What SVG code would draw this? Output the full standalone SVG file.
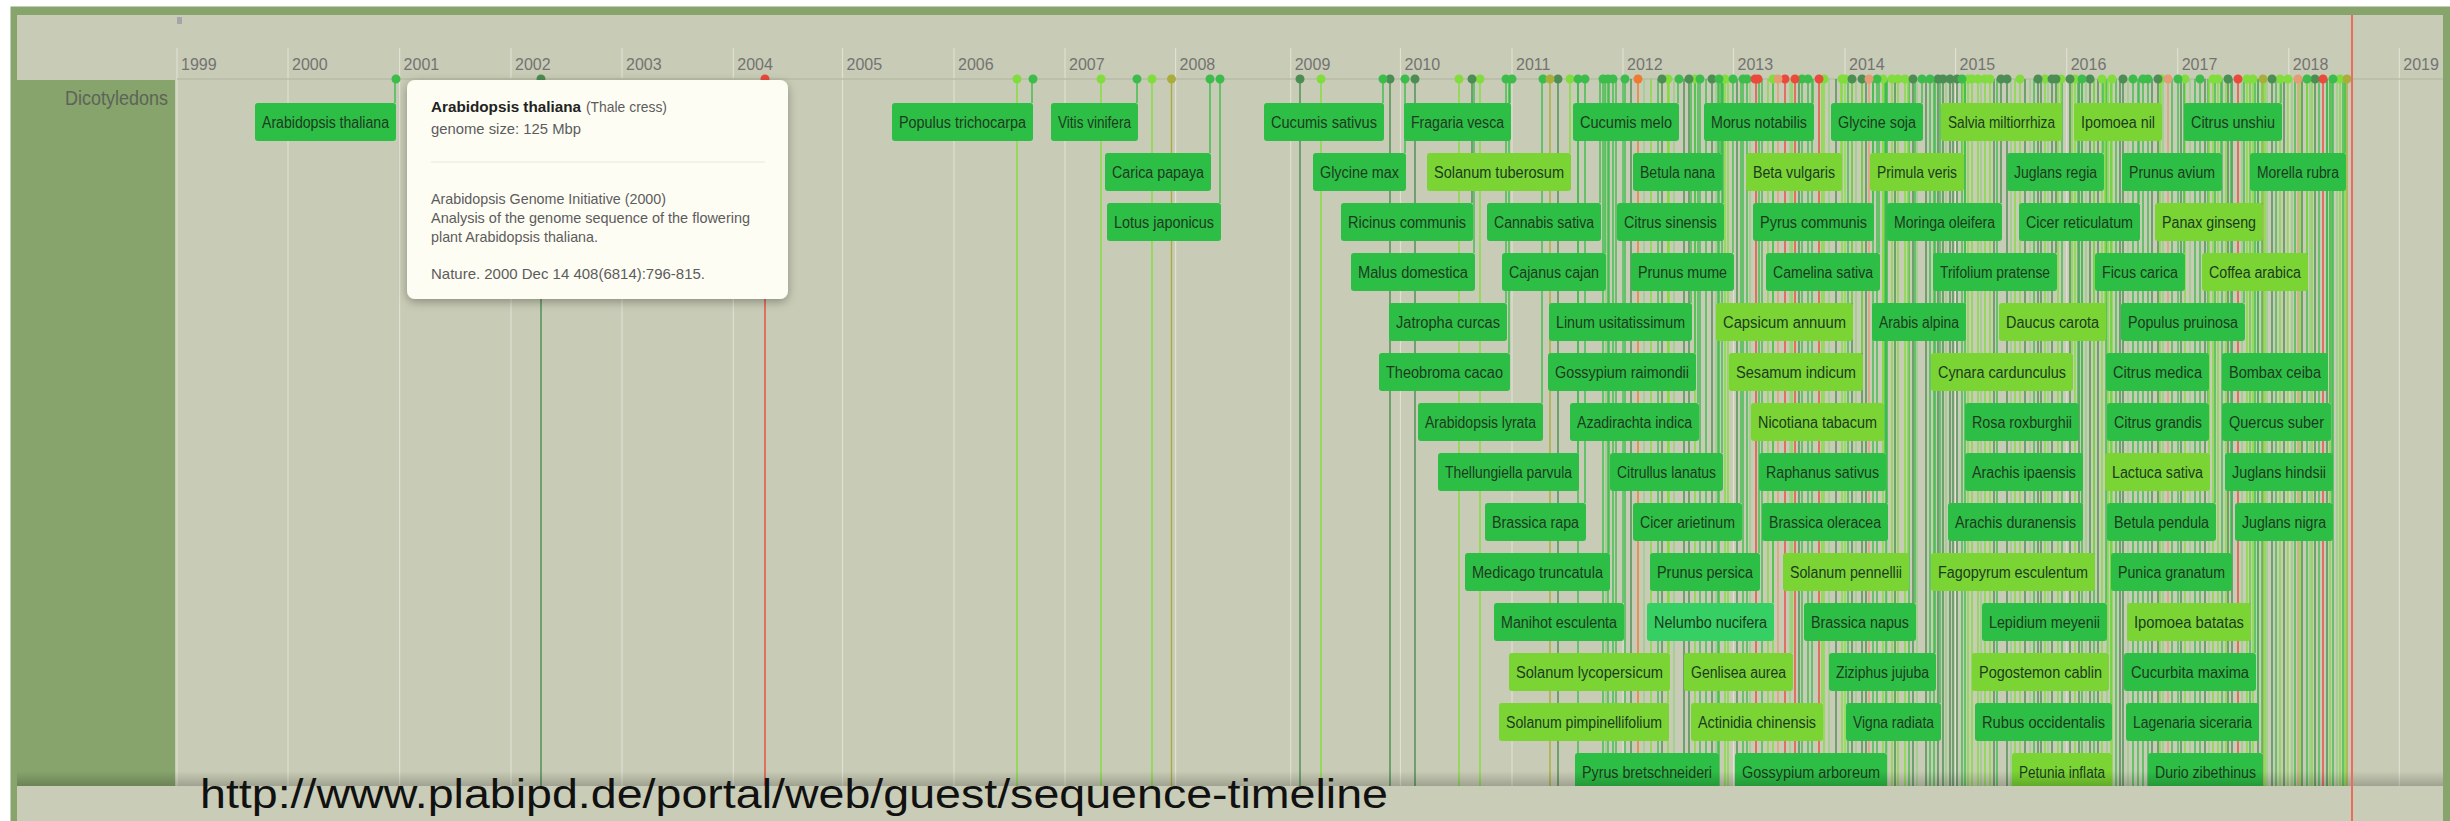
<svg xmlns="http://www.w3.org/2000/svg" width="2450" height="821" viewBox="0 0 2450 821">
<defs>
<style>
.yr{font-family:'Liberation Sans',Arial,sans-serif;font-size:16px;fill:#737373}
.lbl{font-family:'Liberation Sans',Arial,sans-serif;font-size:16px;fill:#1d3b21;text-anchor:middle}
.bd,.bl,.bn{rx:3px;ry:3px}
.bd{fill:#2dbe46}.bl{fill:#7ad434}.bn{fill:#35cf63}
.grid{stroke:#e0e1d3;stroke-width:1.2;fill:none}
.st{fill:none;stroke-width:1.4}
.dot{fill:none;stroke-width:9;stroke-linecap:round}
.dg{stroke:#4b8d52}.g{stroke:#3cbd4b}.lg{stroke:#80dd3d}.pg{stroke:#96cf86}.ol{stroke:#a9ad3c}.rd{stroke:#ea4a3c}.sa{stroke:#e39c74}.or{stroke:#ef7a32}
.tt{font-family:'Liberation Sans',Arial,sans-serif;font-size:15px;fill:#5c5c5c}
</style>
<filter id="sh" x="-10%" y="-10%" width="120%" height="130%"><feDropShadow dx="0" dy="3" stdDeviation="5" flood-color="#000" flood-opacity="0.3"/></filter>
<linearGradient id="bshade" x1="0" y1="0" x2="0" y2="1"><stop offset="0" stop-color="#000" stop-opacity="0"/><stop offset="1" stop-color="#000" stop-opacity="0.2"/></linearGradient>
</defs>
<rect x="0" y="0" width="2450" height="821" fill="#ffffff"/>
<rect x="10.5" y="6.5" width="2439.5" height="814.5" fill="#86a46c"/>
<rect x="17" y="15" width="2426" height="806" fill="#c8cbb5"/>
<rect x="17" y="80" width="158" height="706" fill="#86a46c"/>
<rect x="177" y="17" width="5" height="7" fill="#a2a5aa"/>
<text x="168" y="105" font-family="'Liberation Sans',Arial,sans-serif" font-size="20" fill="#5e6358" text-anchor="end" textLength="103" lengthAdjust="spacingAndGlyphs">Dicotyledons</text>

<g id="grid">
<path class="grid" d="M177 48V787M288 48V787M399.6 48V787M511 48V787M622 48V787M733.3 48V787M842.5 48V787M954 48V787M1065 48V787M1175.6 48V787M1290.7 48V787M1400.5 48V787M1512 48V787M1623 48V787M1733.5 48V787M1845 48V787M1955.6 48V787M2066.7 48V787M2177.7 48V787M2288.8 48V787M2399.3 48V787"/>
<line x1="177" y1="79" x2="2443" y2="79" stroke="#b8bba6" stroke-width="1.5"/>
<text class="yr" x="181" y="70">1999</text>
<text class="yr" x="292" y="70">2000</text>
<text class="yr" x="403.6" y="70">2001</text>
<text class="yr" x="515" y="70">2002</text>
<text class="yr" x="626" y="70">2003</text>
<text class="yr" x="737.3" y="70">2004</text>
<text class="yr" x="846.5" y="70">2005</text>
<text class="yr" x="958" y="70">2006</text>
<text class="yr" x="1069" y="70">2007</text>
<text class="yr" x="1179.6" y="70">2008</text>
<text class="yr" x="1294.7" y="70">2009</text>
<text class="yr" x="1404.5" y="70">2010</text>
<text class="yr" x="1516" y="70">2011</text>
<text class="yr" x="1627" y="70">2012</text>
<text class="yr" x="1737.5" y="70">2013</text>
<text class="yr" x="1849" y="70">2014</text>
<text class="yr" x="1959.6" y="70">2015</text>
<text class="yr" x="2070.7" y="70">2016</text>
<text class="yr" x="2181.7" y="70">2017</text>
<text class="yr" x="2292.8" y="70">2018</text>
<text class="yr" x="2403.3" y="70">2019</text>
</g>

<g id="connectors">
<path class="st pg" d="M1606 79V787M1644 79V787M1674 79V787M1716 79V787M1750 79V787M1790 79V787M1829 79V787M1856 79V787M1887 79V787M1917 79V787M1946 79V787M1981 79V787M2011 79V787M2030 79V787M2048 79V787M2086 79V787M2107 79V787M2128 79V787M2163 79V787M2190 79V787M2209 79V787M2242 79V787M2267 79V787M2292 79V787M2310 79V787M2337 79V787"/>
<path class="st dg" d="M541 79V787M1300 79V787M1390 79V787M1415 79V787M1558 79V787M1662 79V787M1689 79V787M1712 79V787M1852 79V787M1862 79V787M1913 79V787M1938 79V787M1943 79V787M1950 79V787M1957 79V787M2007 79V787M2038 79V787M2052 79V787M2070 79V787M2090 79V787M2123 79V787M2158 79V787M2228 79V787M2272 79V787M2315 79V787M1631 79V787M1684 79V787M1737 79V787M1799 79V787M1836 79V787M1866 79V787M1895 79V787M1926 79V787M1953 79V787M1994 79V787M2025 79V787M2041 79V787M2079 79V787M2098 79V787M2120 79V787M2152 79V787M2181 79V787M2205 79V787M2232 79V787M2258 79V787M2284 79V787M2302 79V787M2327 79V787M1472 79V203M2001 79V203M2056 79V253"/>
<path class="st g" d="M1578 79V787M1603 79V787M1608 79V787M1613 79V787M1625 79V787M1700 79V787M1719 79V787M1743 79V787M1747 79V787M1802 79V787M1808 79V787M1877 79V787M1930 79V787M1962 79V787M2082 79V787M2133 79V787M2143 79V787M2148 79V787M2178 79V787M2200 79V787M2307 79V787M2333 79V787M1616 79V787M1658 79V787M1706 79V787M1762 79V787M1812 79V787M1848 79V787M1873 79V787M1909 79V787M1934 79V787M1965 79V787M1997 79V787M2034 79V787M2062 79V787M2094 79V787M2116 79V787M2138 79V787M2172 79V787M2195 79V787M2222 79V787M2250 79V787M2276 79V787M2295 79V787M2319 79V787M2343 79V787"/>
<path class="st lg" d="M1017 79V787M1101 79V787M1152 79V787M1321 79V787M1459 79V787M1480 79V787M1668 79V787M1695 79V787M1725 79V787M1773 79V787M1824 79V787M1842 79V787M1845 79V787M1883 79V787M1892 79V787M1898 79V787M1905 79V787M1968 79V787M1972 79V787M1978 79V787M1985 79V787M1990 79V787M2020 79V787M2045 79V787M2075 79V787M2102 79V787M2112 79V787M2185 79V787M2213 79V787M2218 79V787M2247 79V787M2253 79V787M2280 79V787M2288 79V787M2340 79V787M1651 79V787M1728 79V787M1768 79V787M2015 79V787M2058 79V787M2160 79V787M2226 79V787M2265 79V787M2300 79V787M2312 79V787M2330 79V787M2345 79V787"/>
<path class="st ol" d="M1171.5 79V787M1550 79V787M2263 79V787M2347 79V787"/>
<path class="st rd" d="M765 79V787M1785 79V787M1795 79V787M1819 79V787M2238 79V787M2323 79V787"/>
<path class="st rd" stroke-width="3.5" d="M1756 79V787"/>
<path class="st sa" d="M1778 79V787M1869 79V787M2168 79V787M2298 79V787"/>
<path class="st or" d="M1638 79V787"/>
<path class="st g" d="M395 79V103M1032 79V103M1137 79V103M1383 79V103M1510 79V103M1678 79V103M1813 79V103M1922 79V103M2281 79V103M1210 79V153M1405 79V153M1721 79V153M2103 79V153M2221 79V153M2345 79V153M1220 79V203M1600 79V203M1723 79V203M1873 79V203M2139 79V203M1474 79V253M1605 79V253M1733 79V253M1879 79V253M2184 79V253M1506 79V303M1691 79V303M1965 79V303M2244 79V303M1509 79V353M1695 79V353M2208 79V353M2327 79V353M1542 79V403M1698 79V403M2078 79V403M2208 79V403M2330 79V403M1578 79V453M1722 79V453M1885 79V453M2082 79V453M2332 79V453M1585 79V503M1741 79V503M1887 79V503M2082 79V503M2215 79V503M2332 79V503M1609 79V553M1759 79V553M2231 79V553M1623 79V603M1773 79V603M1915 79V603M2106 79V603M1935 79V653M2255 79V653M1940 79V703M2111 79V703M2258 79V703M1718 79V753M1886 79V753M2262 79V753"/>
<path class="st lg" d="M2061 79V103M2161 79V103M1570 79V153M1841 79V153M1963 79V153M2262 79V203M2307 79V253M1852 79V303M2105 79V303M1862 79V353M2072 79V353M1883 79V403M2209 79V453M1908 79V553M2094 79V553M2250 79V603M1669 79V653M1792 79V653M2108 79V653M1668 79V703M1822 79V703M2111 79V753"/>
</g>

<g id="dots">
<path class="dot lg" d="M1017 79h0M1101 79h0M1152 79h0M1321 79h0M1459 79h0M1480 79h0M1570 79h0M1668 79h0M1695 79h0M1725 79h0M1773 79h0M1824 79h0M1842 79h0M1845 79h0M1883 79h0M1892 79h0M1898 79h0M1905 79h0M1968 79h0M1972 79h0M1978 79h0M1985 79h0M1990 79h0M2020 79h0M2045 79h0M2061 79h0M2075 79h0M2102 79h0M2112 79h0M2161 79h0M2185 79h0M2213 79h0M2218 79h0M2247 79h0M2253 79h0M2280 79h0M2288 79h0M2340 79h0"/>
<path class="dot dg" d="M541 79h0M1300 79h0M1390 79h0M1415 79h0M1472 79h0M1558 79h0M1662 79h0M1689 79h0M1712 79h0M1852 79h0M1862 79h0M1913 79h0M1938 79h0M1943 79h0M1950 79h0M1957 79h0M2001 79h0M2007 79h0M2038 79h0M2052 79h0M2056 79h0M2070 79h0M2090 79h0M2123 79h0M2158 79h0M2228 79h0M2272 79h0M2315 79h0"/>
<path class="dot g" d="M396 79h0M1033 79h0M1137 79h0M1210 79h0M1220 79h0M1383 79h0M1405 79h0M1506 79h0M1512 79h0M1543 79h0M1578 79h0M1585 79h0M1603 79h0M1608 79h0M1613 79h0M1625 79h0M1679 79h0M1700 79h0M1719 79h0M1733 79h0M1743 79h0M1747 79h0M1802 79h0M1808 79h0M1877 79h0M1922 79h0M1930 79h0M1962 79h0M2082 79h0M2133 79h0M2143 79h0M2148 79h0M2178 79h0M2200 79h0M2307 79h0M2333 79h0"/>
<path class="dot ol" d="M1171.5 79h0M1550 79h0M2263 79h0M2347 79h0"/>
<path class="dot rd" d="M765 79h0M1755 79h0M1758 79h0M1785 79h0M1795 79h0M1819 79h0M2238 79h0M2323 79h0"/>
<path class="dot sa" d="M1778 79h0M1869 79h0M2168 79h0M2298 79h0"/>
<path class="dot or" d="M1638 79h0"/>
</g>

<g id="nodes">
<g id="n-arabidopsis-thaliana"><rect class="bd" x="255" y="103" width="141" height="38"/><text class="lbl" x="325.5" y="128" textLength="127" lengthAdjust="spacingAndGlyphs">Arabidopsis thaliana</text></g>
<g id="n-populus-trichocarpa"><rect class="bd" x="892" y="103" width="141" height="38"/><text class="lbl" x="962.5" y="128" textLength="127" lengthAdjust="spacingAndGlyphs">Populus trichocarpa</text></g>
<g id="n-vitis-vinifera"><rect class="bd" x="1051" y="103" width="87" height="38"/><text class="lbl" x="1094.5" y="128" textLength="73" lengthAdjust="spacingAndGlyphs">Vitis vinifera</text></g>
<g id="n-cucumis-sativus"><rect class="bd" x="1264" y="103" width="120" height="38"/><text class="lbl" x="1324" y="128" textLength="106" lengthAdjust="spacingAndGlyphs">Cucumis sativus</text></g>
<g id="n-fragaria-vesca"><rect class="bd" x="1404" y="103" width="107" height="38"/><text class="lbl" x="1457.5" y="128" textLength="93" lengthAdjust="spacingAndGlyphs">Fragaria vesca</text></g>
<g id="n-cucumis-melo"><rect class="bd" x="1573" y="103" width="106" height="38"/><text class="lbl" x="1626" y="128" textLength="92" lengthAdjust="spacingAndGlyphs">Cucumis melo</text></g>
<g id="n-morus-notabilis"><rect class="bd" x="1704" y="103" width="110" height="38"/><text class="lbl" x="1759" y="128" textLength="96" lengthAdjust="spacingAndGlyphs">Morus notabilis</text></g>
<g id="n-glycine-soja"><rect class="bd" x="1831" y="103" width="92" height="38"/><text class="lbl" x="1877" y="128" textLength="78" lengthAdjust="spacingAndGlyphs">Glycine soja</text></g>
<g id="n-salvia-miltiorrhiza"><rect class="bl" x="1941" y="103" width="121" height="38"/><text class="lbl" x="2001.5" y="128" textLength="107" lengthAdjust="spacingAndGlyphs">Salvia miltiorrhiza</text></g>
<g id="n-ipomoea-nil"><rect class="bl" x="2074" y="103" width="88" height="38"/><text class="lbl" x="2118" y="128" textLength="74" lengthAdjust="spacingAndGlyphs">Ipomoea nil</text></g>
<g id="n-citrus-unshiu"><rect class="bd" x="2184" y="103" width="98" height="38"/><text class="lbl" x="2233" y="128" textLength="84" lengthAdjust="spacingAndGlyphs">Citrus unshiu</text></g>

<g id="n-carica-papaya"><rect class="bd" x="1105" y="153" width="106" height="38"/><text class="lbl" x="1158" y="178" textLength="92" lengthAdjust="spacingAndGlyphs">Carica papaya</text></g>
<g id="n-glycine-max"><rect class="bd" x="1313" y="153" width="93" height="38"/><text class="lbl" x="1359.5" y="178" textLength="79" lengthAdjust="spacingAndGlyphs">Glycine max</text></g>
<g id="n-solanum-tuberosum"><rect class="bl" x="1427" y="153" width="144" height="38"/><text class="lbl" x="1499" y="178" textLength="130" lengthAdjust="spacingAndGlyphs">Solanum tuberosum</text></g>
<g id="n-betula-nana"><rect class="bd" x="1633" y="153" width="89" height="38"/><text class="lbl" x="1677.5" y="178" textLength="75" lengthAdjust="spacingAndGlyphs">Betula nana</text></g>
<g id="n-beta-vulgaris"><rect class="bl" x="1746" y="153" width="96" height="38"/><text class="lbl" x="1794" y="178" textLength="82" lengthAdjust="spacingAndGlyphs">Beta vulgaris</text></g>
<g id="n-primula-veris"><rect class="bl" x="1870" y="153" width="94" height="38"/><text class="lbl" x="1917" y="178" textLength="80" lengthAdjust="spacingAndGlyphs">Primula veris</text></g>
<g id="n-juglans-regia"><rect class="bd" x="2007" y="153" width="97" height="38"/><text class="lbl" x="2055.5" y="178" textLength="83" lengthAdjust="spacingAndGlyphs">Juglans regia</text></g>
<g id="n-prunus-avium"><rect class="bd" x="2122" y="153" width="100" height="38"/><text class="lbl" x="2172" y="178" textLength="86" lengthAdjust="spacingAndGlyphs">Prunus avium</text></g>
<g id="n-morella-rubra"><rect class="bd" x="2250" y="153" width="96" height="38"/><text class="lbl" x="2298" y="178" textLength="82" lengthAdjust="spacingAndGlyphs">Morella rubra</text></g>

<g id="n-lotus-japonicus"><rect class="bd" x="1107" y="203" width="114" height="38"/><text class="lbl" x="1164" y="228" textLength="100" lengthAdjust="spacingAndGlyphs">Lotus japonicus</text></g>
<g id="n-ricinus-communis"><rect class="bd" x="1341" y="203" width="132" height="38"/><text class="lbl" x="1407" y="228" textLength="118" lengthAdjust="spacingAndGlyphs">Ricinus communis</text></g>
<g id="n-cannabis-sativa"><rect class="bd" x="1487" y="203" width="114" height="38"/><text class="lbl" x="1544" y="228" textLength="100" lengthAdjust="spacingAndGlyphs">Cannabis sativa</text></g>
<g id="n-citrus-sinensis"><rect class="bd" x="1617" y="203" width="107" height="38"/><text class="lbl" x="1670.5" y="228" textLength="93" lengthAdjust="spacingAndGlyphs">Citrus sinensis</text></g>
<g id="n-pyrus-communis"><rect class="bd" x="1753" y="203" width="121" height="38"/><text class="lbl" x="1813.5" y="228" textLength="107" lengthAdjust="spacingAndGlyphs">Pyrus communis</text></g>
<g id="n-moringa-oleifera"><rect class="bd" x="1887" y="203" width="115" height="38"/><text class="lbl" x="1944.5" y="228" textLength="101" lengthAdjust="spacingAndGlyphs">Moringa oleifera</text></g>
<g id="n-cicer-reticulatum"><rect class="bd" x="2019" y="203" width="121" height="38"/><text class="lbl" x="2079.5" y="228" textLength="107" lengthAdjust="spacingAndGlyphs">Cicer reticulatum</text></g>
<g id="n-panax-ginseng"><rect class="bl" x="2155" y="203" width="108" height="38"/><text class="lbl" x="2209" y="228" textLength="94" lengthAdjust="spacingAndGlyphs">Panax ginseng</text></g>

<g id="n-malus-domestica"><rect class="bd" x="1351" y="253" width="124" height="38"/><text class="lbl" x="1413" y="278" textLength="110" lengthAdjust="spacingAndGlyphs">Malus domestica</text></g>
<g id="n-cajanus-cajan"><rect class="bd" x="1502" y="253" width="104" height="38"/><text class="lbl" x="1554" y="278" textLength="90" lengthAdjust="spacingAndGlyphs">Cajanus cajan</text></g>
<g id="n-prunus-mume"><rect class="bd" x="1631" y="253" width="103" height="38"/><text class="lbl" x="1682.5" y="278" textLength="89" lengthAdjust="spacingAndGlyphs">Prunus mume</text></g>
<g id="n-camelina-sativa"><rect class="bd" x="1766" y="253" width="114" height="38"/><text class="lbl" x="1823" y="278" textLength="100" lengthAdjust="spacingAndGlyphs">Camelina sativa</text></g>
<g id="n-trifolium-pratense"><rect class="bd" x="1933" y="253" width="124" height="38"/><text class="lbl" x="1995" y="278" textLength="110" lengthAdjust="spacingAndGlyphs">Trifolium pratense</text></g>
<g id="n-ficus-carica"><rect class="bd" x="2095" y="253" width="90" height="38"/><text class="lbl" x="2140" y="278" textLength="76" lengthAdjust="spacingAndGlyphs">Ficus carica</text></g>
<g id="n-coffea-arabica"><rect class="bl" x="2202" y="253" width="106" height="38"/><text class="lbl" x="2255" y="278" textLength="92" lengthAdjust="spacingAndGlyphs">Coffea arabica</text></g>

<g id="n-jatropha-curcas"><rect class="bd" x="1389" y="303" width="118" height="38"/><text class="lbl" x="1448" y="328" textLength="104" lengthAdjust="spacingAndGlyphs">Jatropha curcas</text></g>
<g id="n-linum-usitatissimum"><rect class="bd" x="1549" y="303" width="143" height="38"/><text class="lbl" x="1620.5" y="328" textLength="129" lengthAdjust="spacingAndGlyphs">Linum usitatissimum</text></g>
<g id="n-capsicum-annuum"><rect class="bl" x="1716" y="303" width="137" height="38"/><text class="lbl" x="1784.5" y="328" textLength="123" lengthAdjust="spacingAndGlyphs">Capsicum annuum</text></g>
<g id="n-arabis-alpina"><rect class="bd" x="1872" y="303" width="94" height="38"/><text class="lbl" x="1919" y="328" textLength="80" lengthAdjust="spacingAndGlyphs">Arabis alpina</text></g>
<g id="n-daucus-carota"><rect class="bl" x="1999" y="303" width="107" height="38"/><text class="lbl" x="2052.5" y="328" textLength="93" lengthAdjust="spacingAndGlyphs">Daucus carota</text></g>
<g id="n-populus-pruinosa"><rect class="bd" x="2121" y="303" width="124" height="38"/><text class="lbl" x="2183" y="328" textLength="110" lengthAdjust="spacingAndGlyphs">Populus pruinosa</text></g>

<g id="n-theobroma-cacao"><rect class="bd" x="1379" y="353" width="131" height="38"/><text class="lbl" x="1444.5" y="378" textLength="117" lengthAdjust="spacingAndGlyphs">Theobroma cacao</text></g>
<g id="n-gossypium-raimondii"><rect class="bd" x="1548" y="353" width="148" height="38"/><text class="lbl" x="1622" y="378" textLength="134" lengthAdjust="spacingAndGlyphs">Gossypium raimondii</text></g>
<g id="n-sesamum-indicum"><rect class="bl" x="1729" y="353" width="134" height="38"/><text class="lbl" x="1796" y="378" textLength="120" lengthAdjust="spacingAndGlyphs">Sesamum indicum</text></g>
<g id="n-cynara-cardunculus"><rect class="bl" x="1931" y="353" width="142" height="38"/><text class="lbl" x="2002" y="378" textLength="128" lengthAdjust="spacingAndGlyphs">Cynara cardunculus</text></g>
<g id="n-citrus-medica"><rect class="bd" x="2106" y="353" width="103" height="38"/><text class="lbl" x="2157.5" y="378" textLength="89" lengthAdjust="spacingAndGlyphs">Citrus medica</text></g>
<g id="n-bombax-ceiba"><rect class="bd" x="2222" y="353" width="106" height="38"/><text class="lbl" x="2275" y="378" textLength="92" lengthAdjust="spacingAndGlyphs">Bombax ceiba</text></g>

<g id="n-arabidopsis-lyrata"><rect class="bd" x="1418" y="403" width="125" height="38"/><text class="lbl" x="1480.5" y="428" textLength="111" lengthAdjust="spacingAndGlyphs">Arabidopsis lyrata</text></g>
<g id="n-azadirachta-indica"><rect class="bd" x="1570" y="403" width="129" height="38"/><text class="lbl" x="1634.5" y="428" textLength="115" lengthAdjust="spacingAndGlyphs">Azadirachta indica</text></g>
<g id="n-nicotiana-tabacum"><rect class="bl" x="1751" y="403" width="133" height="38"/><text class="lbl" x="1817.5" y="428" textLength="119" lengthAdjust="spacingAndGlyphs">Nicotiana tabacum</text></g>
<g id="n-rosa-roxburghii"><rect class="bd" x="1965" y="403" width="114" height="38"/><text class="lbl" x="2022" y="428" textLength="100" lengthAdjust="spacingAndGlyphs">Rosa roxburghii</text></g>
<g id="n-citrus-grandis"><rect class="bd" x="2107" y="403" width="102" height="38"/><text class="lbl" x="2158" y="428" textLength="88" lengthAdjust="spacingAndGlyphs">Citrus grandis</text></g>
<g id="n-quercus-suber"><rect class="bd" x="2222" y="403" width="109" height="38"/><text class="lbl" x="2276.5" y="428" textLength="95" lengthAdjust="spacingAndGlyphs">Quercus suber</text></g>

<g id="n-thellungiella-parvula"><rect class="bd" x="1438" y="453" width="141" height="38"/><text class="lbl" x="1508.5" y="478" textLength="127" lengthAdjust="spacingAndGlyphs">Thellungiella parvula</text></g>
<g id="n-citrullus-lanatus"><rect class="bd" x="1610" y="453" width="113" height="38"/><text class="lbl" x="1666.5" y="478" textLength="99" lengthAdjust="spacingAndGlyphs">Citrullus lanatus</text></g>
<g id="n-raphanus-sativus"><rect class="bd" x="1759" y="453" width="127" height="38"/><text class="lbl" x="1822.5" y="478" textLength="113" lengthAdjust="spacingAndGlyphs">Raphanus sativus</text></g>
<g id="n-arachis-ipaensis"><rect class="bd" x="1965" y="453" width="118" height="38"/><text class="lbl" x="2024" y="478" textLength="104" lengthAdjust="spacingAndGlyphs">Arachis ipaensis</text></g>
<g id="n-lactuca-sativa"><rect class="bl" x="2105" y="453" width="105" height="38"/><text class="lbl" x="2157.5" y="478" textLength="91" lengthAdjust="spacingAndGlyphs">Lactuca sativa</text></g>
<g id="n-juglans-hindsii"><rect class="bd" x="2225" y="453" width="108" height="38"/><text class="lbl" x="2279" y="478" textLength="94" lengthAdjust="spacingAndGlyphs">Juglans hindsii</text></g>

<g id="n-brassica-rapa"><rect class="bd" x="1485" y="503" width="101" height="38"/><text class="lbl" x="1535.5" y="528" textLength="87" lengthAdjust="spacingAndGlyphs">Brassica rapa</text></g>
<g id="n-cicer-arietinum"><rect class="bd" x="1633" y="503" width="109" height="38"/><text class="lbl" x="1687.5" y="528" textLength="95" lengthAdjust="spacingAndGlyphs">Cicer arietinum</text></g>
<g id="n-brassica-oleracea"><rect class="bd" x="1762" y="503" width="126" height="38"/><text class="lbl" x="1825" y="528" textLength="112" lengthAdjust="spacingAndGlyphs">Brassica oleracea</text></g>
<g id="n-arachis-duranensis"><rect class="bd" x="1948" y="503" width="135" height="38"/><text class="lbl" x="2015.5" y="528" textLength="121" lengthAdjust="spacingAndGlyphs">Arachis duranensis</text></g>
<g id="n-betula-pendula"><rect class="bd" x="2107" y="503" width="109" height="38"/><text class="lbl" x="2161.5" y="528" textLength="95" lengthAdjust="spacingAndGlyphs">Betula pendula</text></g>
<g id="n-juglans-nigra"><rect class="bd" x="2235" y="503" width="98" height="38"/><text class="lbl" x="2284" y="528" textLength="84" lengthAdjust="spacingAndGlyphs">Juglans nigra</text></g>

<g id="n-medicago-truncatula"><rect class="bd" x="1465" y="553" width="145" height="38"/><text class="lbl" x="1537.5" y="578" textLength="131" lengthAdjust="spacingAndGlyphs">Medicago truncatula</text></g>
<g id="n-prunus-persica"><rect class="bd" x="1650" y="553" width="110" height="38"/><text class="lbl" x="1705" y="578" textLength="96" lengthAdjust="spacingAndGlyphs">Prunus persica</text></g>
<g id="n-solanum-pennellii"><rect class="bl" x="1783" y="553" width="126" height="38"/><text class="lbl" x="1846" y="578" textLength="112" lengthAdjust="spacingAndGlyphs">Solanum pennellii</text></g>
<g id="n-fagopyrum-esculentum"><rect class="bl" x="1931" y="553" width="164" height="38"/><text class="lbl" x="2013" y="578" textLength="150" lengthAdjust="spacingAndGlyphs">Fagopyrum esculentum</text></g>
<g id="n-punica-granatum"><rect class="bd" x="2111" y="553" width="121" height="38"/><text class="lbl" x="2171.5" y="578" textLength="107" lengthAdjust="spacingAndGlyphs">Punica granatum</text></g>

<g id="n-manihot-esculenta"><rect class="bd" x="1494" y="603" width="130" height="38"/><text class="lbl" x="1559" y="628" textLength="116" lengthAdjust="spacingAndGlyphs">Manihot esculenta</text></g>
<g id="n-nelumbo-nucifera"><rect class="bn" x="1647" y="603" width="127" height="38"/><text class="lbl" x="1710.5" y="628" textLength="113" lengthAdjust="spacingAndGlyphs">Nelumbo nucifera</text></g>
<g id="n-brassica-napus"><rect class="bd" x="1804" y="603" width="112" height="38"/><text class="lbl" x="1860" y="628" textLength="98" lengthAdjust="spacingAndGlyphs">Brassica napus</text></g>
<g id="n-lepidium-meyenii"><rect class="bd" x="1982" y="603" width="125" height="38"/><text class="lbl" x="2044.5" y="628" textLength="111" lengthAdjust="spacingAndGlyphs">Lepidium meyenii</text></g>
<g id="n-ipomoea-batatas"><rect class="bl" x="2127" y="603" width="124" height="38"/><text class="lbl" x="2189" y="628" textLength="110" lengthAdjust="spacingAndGlyphs">Ipomoea batatas</text></g>

<g id="n-solanum-lycopersicum"><rect class="bl" x="1509" y="653" width="161" height="38"/><text class="lbl" x="1589.5" y="678" textLength="147" lengthAdjust="spacingAndGlyphs">Solanum lycopersicum</text></g>
<g id="n-genlisea-aurea"><rect class="bl" x="1684" y="653" width="109" height="38"/><text class="lbl" x="1738.5" y="678" textLength="95" lengthAdjust="spacingAndGlyphs">Genlisea aurea</text></g>
<g id="n-ziziphus-jujuba"><rect class="bd" x="1829" y="653" width="107" height="38"/><text class="lbl" x="1882.5" y="678" textLength="93" lengthAdjust="spacingAndGlyphs">Ziziphus jujuba</text></g>
<g id="n-pogostemon-cablin"><rect class="bl" x="1972" y="653" width="137" height="38"/><text class="lbl" x="2040.5" y="678" textLength="123" lengthAdjust="spacingAndGlyphs">Pogostemon cablin</text></g>
<g id="n-cucurbita-maxima"><rect class="bd" x="2124" y="653" width="132" height="38"/><text class="lbl" x="2190" y="678" textLength="118" lengthAdjust="spacingAndGlyphs">Cucurbita maxima</text></g>

<g id="n-solanum-pimpinellifolium"><rect class="bl" x="1499" y="703" width="170" height="38"/><text class="lbl" x="1584" y="728" textLength="156" lengthAdjust="spacingAndGlyphs">Solanum pimpinellifolium</text></g>
<g id="n-actinidia-chinensis"><rect class="bl" x="1691" y="703" width="132" height="38"/><text class="lbl" x="1757" y="728" textLength="118" lengthAdjust="spacingAndGlyphs">Actinidia chinensis</text></g>
<g id="n-vigna-radiata"><rect class="bd" x="1846" y="703" width="95" height="38"/><text class="lbl" x="1893.5" y="728" textLength="81" lengthAdjust="spacingAndGlyphs">Vigna radiata</text></g>
<g id="n-rubus-occidentalis"><rect class="bd" x="1975" y="703" width="137" height="38"/><text class="lbl" x="2043.5" y="728" textLength="123" lengthAdjust="spacingAndGlyphs">Rubus occidentalis</text></g>
<g id="n-lagenaria-siceraria"><rect class="bd" x="2126" y="703" width="133" height="38"/><text class="lbl" x="2192.5" y="728" textLength="119" lengthAdjust="spacingAndGlyphs">Lagenaria siceraria</text></g>

<g id="n-pyrus-bretschneideri"><rect class="bd" x="1575" y="753" width="144" height="38"/><text class="lbl" x="1647" y="778" textLength="130" lengthAdjust="spacingAndGlyphs">Pyrus bretschneideri</text></g>
<g id="n-gossypium-arboreum"><rect class="bd" x="1735" y="753" width="152" height="38"/><text class="lbl" x="1811" y="778" textLength="138" lengthAdjust="spacingAndGlyphs">Gossypium arboreum</text></g>
<g id="n-petunia-inflata"><rect class="bl" x="2012" y="753" width="100" height="38"/><text class="lbl" x="2062" y="778" textLength="86" lengthAdjust="spacingAndGlyphs">Petunia inflata</text></g>
<g id="n-durio-zibethinus"><rect class="bd" x="2148" y="753" width="115" height="38"/><text class="lbl" x="2205.5" y="778" textLength="101" lengthAdjust="spacingAndGlyphs">Durio zibethinus</text></g>
</g>

<rect x="17" y="771" width="2426" height="15" fill="url(#bshade)"/>
<rect x="17" y="786" width="2426" height="35" fill="#c9ccb6"/>
<line x1="2352" y1="15" x2="2352" y2="821" stroke="#ec6b5e" stroke-width="2"/>

<g id="tooltip">
<rect x="407" y="80" width="381" height="219" rx="8" ry="8" fill="#fefdf4" filter="url(#sh)"/>
<text x="431" y="112" font-family="'Liberation Sans',Arial,sans-serif" font-size="15" font-weight="bold" fill="#222" textLength="150" lengthAdjust="spacingAndGlyphs">Arabidopsis thaliana</text>
<text class="tt" x="586" y="112" fill="#777" textLength="81" lengthAdjust="spacingAndGlyphs">(Thale cress)</text>
<text class="tt" x="431" y="134" textLength="150" lengthAdjust="spacingAndGlyphs">genome size: 125 Mbp</text>
<line x1="431" y1="162" x2="765" y2="162" stroke="#e8e8de" stroke-width="1"/>
<text class="tt" x="431" y="204" textLength="235" lengthAdjust="spacingAndGlyphs">Arabidopsis Genome Initiative (2000)</text>
<text class="tt" x="431" y="222.5" textLength="319" lengthAdjust="spacingAndGlyphs">Analysis of the genome sequence of the flowering</text>
<text class="tt" x="431" y="241.5" textLength="167" lengthAdjust="spacingAndGlyphs">plant Arabidopsis thaliana.</text>
<text class="tt" x="431" y="279" textLength="274" lengthAdjust="spacingAndGlyphs">Nature. 2000 Dec 14 408(6814):796-815.</text>
</g>

<text x="200" y="808" font-family="'Liberation Sans',Arial,sans-serif" font-size="41" fill="#111" textLength="1188" lengthAdjust="spacingAndGlyphs">http://www.plabipd.de/portal/web/guest/sequence-timeline</text>
</svg>
